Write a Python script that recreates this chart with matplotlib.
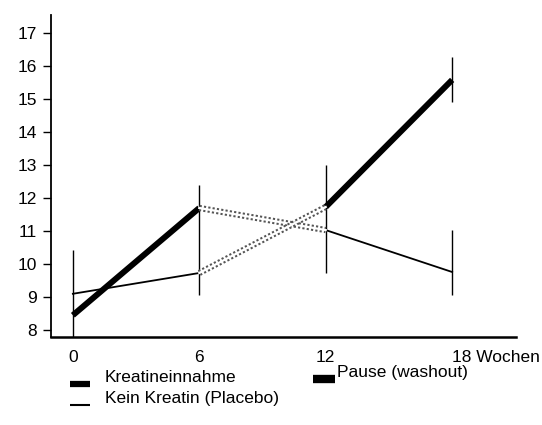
import numpy as np
import matplotlib.pyplot as plt

plt.rcParams['font.family'] = ['Liberation Sans', 'DejaVu Sans']

# Wochen
weeks = [0, 6, 12, 18]
tick_labels = ['0', '6', '12', '18 Wochen']

# Gruppe A: Kreatin 0-6, Pause 6-12, Placebo 12-18
grp_a = [8.45, 11.7, 11.03, 9.76]
# Gruppe B: Placebo 0-6, Pause 6-12, Kreatin 12-18
grp_b = [9.1, 9.73, 11.73, 15.58]

# Fehlerbalken (x, unten, oben)
err_x = [0, 6, 12, 18, 18]
err_lo = [7.8, 9.06, 9.73, 14.91, 9.06]
err_hi = [10.42, 12.39, 13.0, 16.27, 11.03]

leg_labels = ['Kreatineinnahme', 'Kein Kreatin (Placebo)', 'Pause (washout)']

fig = plt.figure(figsize=(5.42, 4.25), dpi=100)
ax = fig.add_axes([0.094, 0.207, 0.858, 0.758])

# Fehlerbalken
ax.vlines(err_x, err_lo, err_hi, color='black', lw=1.0)

# Kreatin (dick)
ax.plot(weeks[0:2], grp_a[0:2], color='black', lw=4.3, solid_capstyle='butt')
ax.plot(weeks[2:4], grp_b[2:4], color='black', lw=4.3, solid_capstyle='butt')
# Placebo (duenn)
ax.plot(weeks[0:2], grp_b[0:2], color='black', lw=1.3)
ax.plot(weeks[2:4], grp_a[2:4], color='black', lw=1.3)
# Pause (gepunktet, doppelt)
for g in (grp_a, grp_b):
    ax.plot(weeks[1:3], g[1:3], color='#555555', lw=4.5, ls=(0, (0.35, 0.35)))
    ax.plot(weeks[1:3], g[1:3], color='white', lw=1.6)

ax.set_xlim(-1.04, 21.03)
ax.set_ylim(7.79, 17.55)
ax.set_yticks(np.arange(8, 18, 1))
ax.set_xticks(weeks)
ax.set_xticklabels(tick_labels, fontsize=12.5)
for lab in ax.get_xticklabels()[-1:]:
    lab.set_horizontalalignment('left')
    lab.set_x(17.6)
ax.tick_params(axis='x', length=0, pad=9)
ax.tick_params(axis='y', length=6, width=1, labelsize=12.5, pad=4)
ax.spines['top'].set_visible(False)
ax.spines['right'].set_visible(False)
ax.spines['left'].set_linewidth(1.3)
ax.spines['bottom'].set_linewidth(1.8)

# Legende
fig.add_artist(plt.Line2D([70 / 542, 90 / 542], [1 - 384 / 425] * 2, color='black', lw=4.5,
                          solid_capstyle='butt'))
fig.add_artist(plt.Line2D([70 / 542, 90 / 542], [1 - 405 / 425] * 2, color='black', lw=1.5,
                          solid_capstyle='butt'))
fig.add_artist(plt.Line2D([313 / 542, 335 / 542], [1 - 379 / 425] * 2, color='black', lw=6,
                          solid_capstyle='butt'))
fig.text(105 / 542, 1 - 377 / 425, leg_labels[0], fontsize=12.5, va='center')
fig.text(105 / 542, 1 - 398 / 425, leg_labels[1], fontsize=12.5, va='center')
fig.text(337 / 542, 1 - 373 / 425, leg_labels[2], fontsize=12.5, va='center')

fig.savefig('out.png', dpi=100)
